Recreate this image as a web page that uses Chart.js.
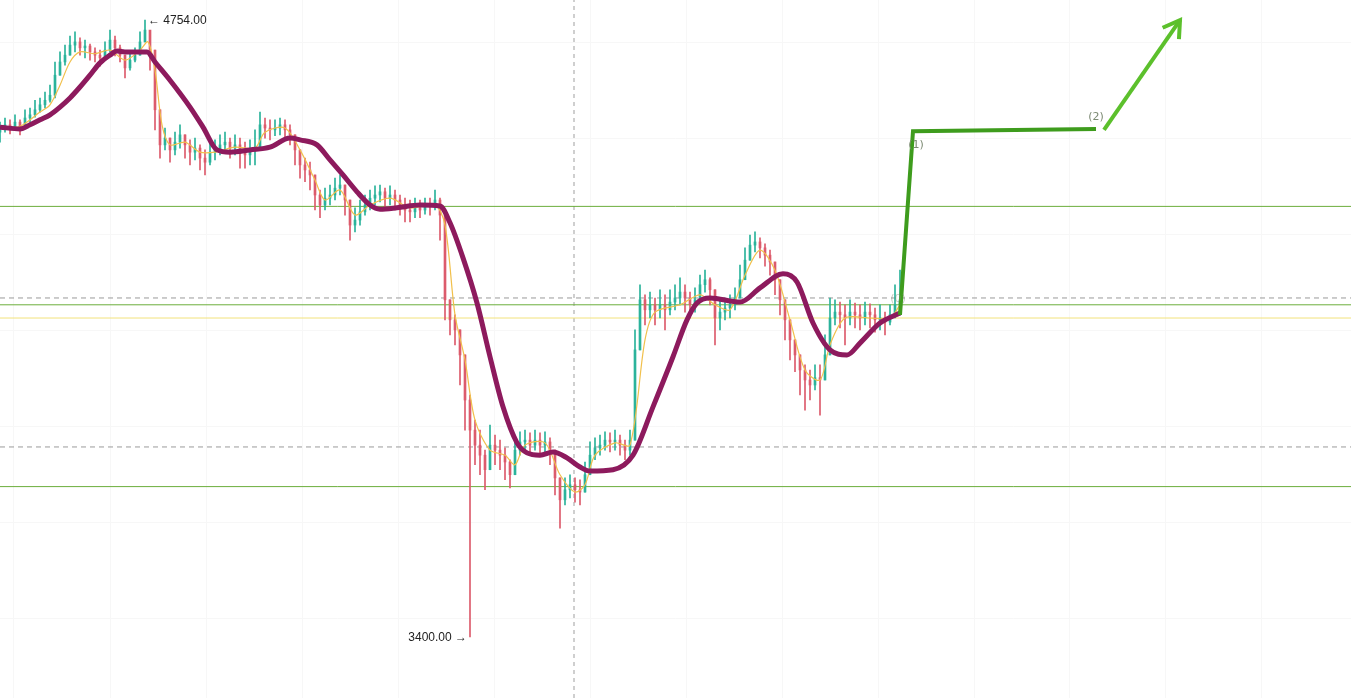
<!DOCTYPE html>
<html>
<head>
<meta charset="utf-8">
<script src="https://cdn.jsdelivr.net/npm/chart.js@4.4.1/dist/chart.umd.min.js"></script>
<style>
  html, body { margin: 0; padding: 0; background: #fff; }
  #wrap { width: 1351px; height: 698px; position: relative; }
</style>
</head>
<body>
<div id="wrap"><canvas id="kline"></canvas></div>
<script>
// candles, one every index step (open = previous close)
const firstOpen = 4508;
const closes = [
  4513,4524,4519,4530,4517,4539,4546,4557,4568,4578,
  4589,4633,4662,4677,4699,4706,4693,4697,4684,4677,
  4671,4688,4710,4693,4677,4649,4666,4677,4706,4732,
  4688,4557,4480,4495,4469,4486,4502,4480,4464,4473,
  4451,4442,4464,4469,4480,4486,4473,4480,4469,4458,
  4469,4473,4524,4517,4513,4517,4524,4513,4502,4469,
  4436,4425,4414,4370,4348,4363,4370,4385,4392,4359,
  4304,4315,4333,4348,4363,4370,4377,4363,4370,4359,
  4348,4337,4333,4342,4337,4348,4346,4359,4326,4140,
  4096,4074,4019,3920,3854,3821,3799,3767,3821,3810,
  3799,3784,3756,3810,3828,3832,3821,3832,3821,3828,
  3810,3749,3701,3723,3734,3723,3718,3756,3799,3815,
  3821,3832,3828,3832,3821,3810,3832,4030,4140,4118,
  4129,4118,4129,4118,4135,4144,4157,4144,4129,4140,
  4173,4184,4162,4100,4113,4122,4129,4144,4184,4227,
  4260,4267,4254,4238,4223,4184,4140,4096,4052,4019,
  3986,3964,3953,3969,3964,4019,4100,4113,4107,4100,
  4113,4107,4100,4113,4107,4096,4100,4091,4107,4129,
  4140
];
const highs = [
  4530,4539,4535,4546,4535,4557,4561,4578,4583,4596,
  4611,4662,4684,4699,4719,4728,4715,4710,4701,4693,
  4688,4706,4732,4719,4699,4677,4684,4693,4728,4754,
  4721,4688,4557,4517,4495,4508,4524,4502,4491,4495,
  4480,4469,4486,4491,4502,4508,4495,4502,4495,4486,
  4491,4513,4552,4539,4535,4535,4539,4535,4524,4502,
  4469,4451,4442,4414,4381,4385,4392,4407,4414,4392,
  4359,4342,4359,4370,4381,4390,4392,4385,4390,4381,
  4370,4363,4359,4363,4359,4363,4363,4381,4363,4326,
  4140,4107,4074,4019,3931,3876,3854,3810,3865,3843,
  3832,3815,3789,3843,3850,3854,3848,3854,3848,3850,
  3837,3810,3749,3749,3756,3749,3745,3784,3828,3837,
  3843,3850,3848,3854,3843,3832,3854,4074,4173,4151,
  4157,4144,4162,4151,4162,4173,4188,4173,4157,4166,
  4194,4205,4188,4162,4140,4144,4151,4166,4216,4254,
  4282,4289,4276,4263,4249,4223,4184,4140,4096,4052,
  4019,3997,3986,3997,3997,4063,4144,4140,4135,4129,
  4140,4133,4129,4135,4131,4122,4129,4113,4129,4173,
  4205
];
const lows = [
  4486,4508,4504,4513,4502,4517,4530,4541,4552,4561,
  4574,4583,4633,4655,4677,4684,4677,4671,4666,4662,
  4653,4666,4684,4675,4662,4627,4644,4662,4677,4706,
  4644,4513,4451,4469,4442,4458,4473,4451,4436,4447,
  4425,4414,4436,4447,4458,4464,4451,4458,4429,4429,
  4436,4436,4473,4495,4491,4500,4502,4491,4480,4436,
  4407,4399,4381,4337,4320,4337,4348,4359,4370,4326,
  4271,4289,4304,4326,4337,4348,4355,4342,4348,4337,
  4326,4311,4311,4320,4320,4328,4326,4337,4271,4096,
  4063,4041,3953,3854,3400,3778,3756,3723,3767,3778,
  3767,3745,3727,3756,3799,3806,3799,3810,3799,3806,
  3778,3712,3639,3690,3705,3696,3690,3718,3756,3789,
  3799,3810,3806,3810,3799,3789,3799,3832,4030,4085,
  4100,4085,4100,4074,4107,4118,4129,4113,4100,4113,
  4140,4157,4129,4041,4074,4096,4100,4118,4144,4184,
  4227,4245,4232,4214,4194,4151,4107,4052,4008,3982,
  3931,3898,3920,3942,3887,3964,4019,4085,4078,4041,
  4085,4078,4074,4085,4078,4069,4074,4063,4085,4100,
  4107
];

// slow moving average (thick purple)
const slowIdx = [0,4,6,8,10,12,14,16,18,20,22,23.4,25,27,29.4,31,34,38,40.6,43.4,46,50,54,58,60,63.4,66,68.6,71.4,74,76,79.4,84,88,90,92.6,95.4,98,100.6,103.4,105.4,108,110.6,113.4,116,118,122.6,126.6,130.6,134.6,137.4,139.4,142,148,152,156.6,159.4,162.6,166,169.4,172,176,180];
const slowVal = [4519,4515,4524,4535,4546,4563,4583,4607,4633,4660,4677,4686,4684,4684,4684,4662,4622,4563,4519,4469,4464,4469,4475,4495,4491,4480,4447,4414,4377,4348,4339,4342,4348,4346,4309,4232,4133,4015,3905,3826,3804,3799,3806,3793,3773,3764,3767,3799,3905,4015,4096,4133,4144,4135,4166,4197,4179,4089,4030,4019,4045,4089,4111];

// fast moving average (thin yellow)
const fastIdx = [0,4,8,10,12,14,16,19,22,25,28,29.6,31,32.4,34,37,40,43,47,51,53,57,60,63,65,68,71,74,78,82,87,89,91,93,95,98,101,103,105,109,112,115,117,119,123,126,129,131,136,140,143,146,149,152,155,158,161,164,166,169,174,178,180];
const fastVal = [4517,4521,4552,4568,4611,4662,4684,4680,4688,4666,4688,4706,4644,4524,4480,4486,4464,4464,4475,4473,4508,4517,4469,4403,4359,4381,4326,4348,4363,4342,4348,4304,4107,4008,3876,3810,3799,3778,3821,3826,3756,3718,3734,3799,3826,3821,4052,4113,4129,4151,4129,4118,4194,4249,4205,4096,3986,3964,4041,4100,4100,4100,4129];

// horizontal levels and the vertical marker
const greenLevels = [4345, 4129, 3730];
const dashLevels = [4144, 3817];
const yellowLevels = [4100];
const markerIdx = 114.8;

// projected path
const projIdx = [180, 182.6, 219.2];
const projVal = [4107, 4510, 4515];
const proj2Idx = [220.8, 236];
const proj2Val = [4513, 4754];

const X_MIN = 0, X_MAX = 270.2, Y_MIN = 3266, Y_MAX = 4798;
const UP = '#2bb39b', DOWN = '#dc5b6c';

const wickData = [], bodyData = [], candleColors = [];
for (let i = 0; i < closes.length; i++) {
  const open = i === 0 ? firstOpen : closes[i - 1];
  wickData.push({x: i, y: [lows[i], highs[i]]});
  bodyData.push({x: i, y: [open, closes[i]]});
  candleColors.push(closes[i] >= open ? UP : DOWN);
}

const pairs = (xs, ys) => xs.map((x, i) => ({x: x, y: ys[i]}));
const hline = v => [{x: X_MIN, y: v}, {x: X_MAX, y: v}];

const datasets = [];
greenLevels.forEach(v => datasets.push({type: 'line', data: hline(v), borderColor: '#6cae3c', borderWidth: 1, pointRadius: 0, order: 10}));
yellowLevels.forEach(v => datasets.push({type: 'line', data: hline(v), borderColor: '#f2e27c', borderWidth: 1, pointRadius: 0, order: 10}));
dashLevels.forEach(v => datasets.push({type: 'line', data: hline(v), borderColor: '#9a9a9a', borderWidth: 1, borderDash: [5, 4], pointRadius: 0, order: 10}));
datasets.push({type: 'line', data: [{x: markerIdx, y: Y_MIN}, {x: markerIdx, y: Y_MAX}], borderColor: '#a0a0a0', borderWidth: 1, borderDash: [4, 4], pointRadius: 0, order: 10});

datasets.push({type: 'bar', data: wickData, backgroundColor: candleColors, barThickness: 1, grouped: false, order: 6});
datasets.push({type: 'bar', data: bodyData, backgroundColor: candleColors, barThickness: 2, grouped: false, order: 5});

datasets.push({type: 'line', data: pairs(fastIdx, fastVal), borderColor: '#f1c04c', borderWidth: 1.2, pointRadius: 0, tension: 0.3, order: 3});
datasets.push({type: 'line', data: pairs(slowIdx, slowVal), borderColor: '#8d1a5d', borderWidth: 5, pointRadius: 0, cubicInterpolationMode: 'monotone', order: 2});

datasets.push({type: 'line', data: pairs(projIdx, projVal), borderColor: '#3e9c1d', borderWidth: 4, pointRadius: 0, order: 1});
datasets.push({type: 'line', data: pairs(proj2Idx, proj2Val), borderColor: '#5cc02c', borderWidth: 4, pointRadius: 0, order: 1});

const annotate = {
  id: 'annotate',
  afterDatasetsDraw(chart) {
    const {ctx, scales: {x, y}} = chart;
    ctx.save();
    // arrow head at the end of the second projection
    const n = proj2Idx.length;
    const x1 = x.getPixelForValue(proj2Idx[n - 2]), y1 = y.getPixelForValue(proj2Val[n - 2]);
    const x2 = x.getPixelForValue(proj2Idx[n - 1]), y2 = y.getPixelForValue(proj2Val[n - 1]);
    const ang = Math.atan2(y2 - y1, x2 - x1);
    ctx.strokeStyle = '#5cc02c';
    ctx.lineWidth = 4;
    ctx.lineJoin = 'miter';
    ctx.beginPath();
    ctx.moveTo(x2 - 19 * Math.cos(ang - 0.55), y2 - 19 * Math.sin(ang - 0.55));
    ctx.lineTo(x2, y2);
    ctx.lineTo(x2 - 19 * Math.cos(ang + 0.55), y2 - 19 * Math.sin(ang + 0.55));
    ctx.stroke();

    // high / low price tags
    const hi = highs.indexOf(Math.max(...highs));
    const lo = lows.indexOf(Math.min(...lows));
    ctx.fillStyle = '#222';
    ctx.font = '12px "Liberation Sans", Arial, sans-serif';
    ctx.textBaseline = 'middle';
    ctx.textAlign = 'left';
    ctx.fillText('\u2190 ' + Math.max(...highs).toFixed(2), x.getPixelForValue(hi) + 3, y.getPixelForValue(highs[hi]) + 1);
    ctx.textAlign = 'right';
    ctx.fillText(Math.min(...lows).toFixed(2) + ' \u2192', x.getPixelForValue(lo) - 3, y.getPixelForValue(lows[lo]) + 1);

    // wave labels
    ctx.font = '11px "DejaVu Sans", sans-serif';
    ctx.textAlign = 'center';
    ctx.fillStyle = '#7d8b74';
    ctx.fillText('(1)', x.getPixelForValue(projIdx[1]) + 3, y.getPixelForValue(projVal[1]) + 14);
    ctx.fillText('(2)', x.getPixelForValue(projIdx[2]), y.getPixelForValue(projVal[2]) - 12);
    ctx.fillStyle = 'rgba(125,139,116,0.45)';
    ctx.fillText('(0)', x.getPixelForValue(projIdx[0]) - 2, y.getPixelForValue(projVal[0]) - 16);
    ctx.restore();
  }
};

new Chart(document.getElementById('kline'), {
  type: 'bar',
  data: {datasets: datasets},
  options: {
    responsive: true,
    maintainAspectRatio: false,
    animation: false,
    layout: {padding: 0},
    plugins: {legend: {display: false}, tooltip: {enabled: false}},
    scales: {
      x: {
        type: 'linear', min: X_MIN, max: X_MAX, offset: false,
        ticks: {display: false},
        border: {display: false},
        grid: {color: '#f7f7f7', drawTicks: false},
        afterBuildTicks: s => {
          const t = [];
          for (let v = 12.4; v <= X_MAX; v += 19.2) t.push({value: v});
          s.ticks = t;
        }
      },
      y: {
        min: Y_MIN, max: Y_MAX,
        ticks: {display: false},
        border: {display: false},
        grid: {color: '#f7f7f7', drawTicks: false},
        afterBuildTicks: s => {
          const t = [];
          for (let v = 4704; v >= Y_MIN; v -= 210.7) t.push({value: v});
          s.ticks = t;
        }
      }
    }
  },
  plugins: [annotate]
});
</script>
</body>
</html>
